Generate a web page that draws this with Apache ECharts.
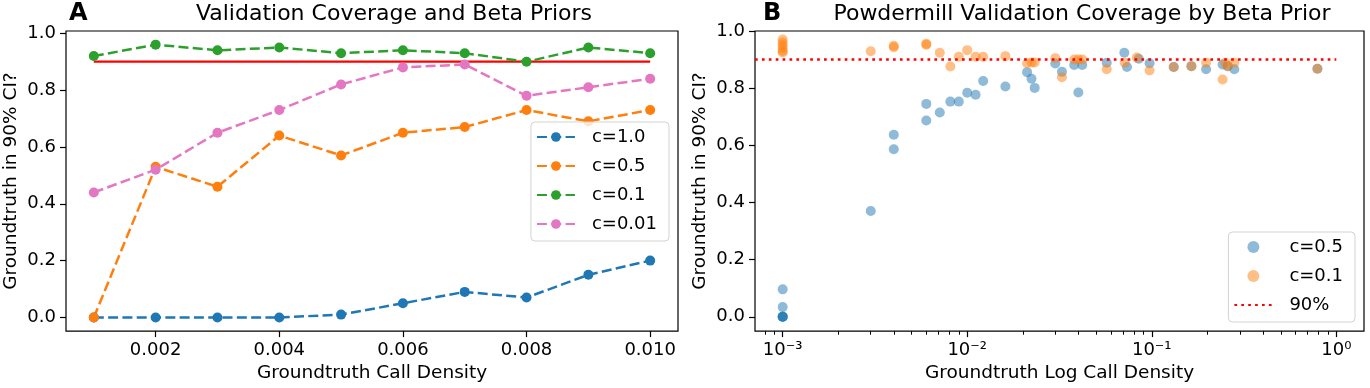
<!DOCTYPE html>
<html>
<head>
<meta charset="utf-8">
<script src="https://cdn.jsdelivr.net/npm/echarts@6/dist/echarts.min.js"></script>
<style>
html, body { margin: 0; padding: 0; background: #fff; }
#chart { width: 1370px; height: 388px; }
</style>
</head>
<body>
<div id="chart"></div>
<script>
// panel A: coverage vs call density for each beta prior
const densityA = [0.001, 0.002, 0.003, 0.004, 0.005, 0.006, 0.007, 0.008, 0.009, 0.010];
const covC10 = [0, 0, 0, 0, 0.01, 0.05, 0.09, 0.07, 0.15, 0.20];
const covC05 = [0, 0.53, 0.46, 0.64, 0.57, 0.65, 0.67, 0.73, 0.69, 0.73];
const covC01 = [0.92, 0.96, 0.94, 0.95, 0.93, 0.94, 0.93, 0.90, 0.95, 0.93];
const covC001 = [0.44, 0.52, 0.65, 0.73, 0.82, 0.88, 0.89, 0.78, 0.81, 0.84];
const targetCov = 0.9;

// panel B: powdermill validation, log density
const densC05 = [0.001, 0.001, 0.001, 0.001, 0.001, 0.001, 0.003, 0.004, 0.004, 0.006, 0.006, 0.0071,
  0.0081, 0.009, 0.010, 0.0111, 0.0122, 0.0161, 0.0211, 0.0223, 0.0232, 0.030, 0.0326, 0.038, 0.040,
  0.042, 0.057, 0.071, 0.0734, 0.085, 0.0973, 0.1315, 0.164, 0.197, 0.242, 0.258, 0.28, 0.79];
const covB05 = [0, 0, 0, 0, 0.034, 0.096, 0.37, 0.637, 0.586, 0.745, 0.687, 0.715,
  0.753, 0.753, 0.784, 0.777, 0.825, 0.806, 0.856, 0.833, 0.801, 0.886, 0.857, 0.881, 0.785,
  0.881, 0.889, 0.924, 0.874, 0.903, 0.887, 0.874, 0.877, 0.866, 0.883, 0.877, 0.866, 0.868];
const densC01 = [0.001, 0.001, 0.001, 0.001, 0.001, 0.001, 0.003, 0.004, 0.004, 0.006, 0.006, 0.0071,
  0.0081, 0.009, 0.010, 0.0111, 0.0122, 0.0161, 0.0211, 0.0223, 0.0232, 0.030, 0.0326, 0.038, 0.040,
  0.042, 0.057, 0.0714, 0.083, 0.0973, 0.1315, 0.164, 0.197, 0.242, 0.25, 0.258, 0.28, 0.79];
const covB01 = [0.97, 0.96, 0.95, 0.94, 0.93, 0.925, 0.929, 0.943, 0.948, 0.952, 0.955, 0.924,
  0.876, 0.91, 0.933, 0.91, 0.91, 0.912, 0.887, 0.89, 0.89, 0.905, 0.838, 0.9, 0.9,
  0.9, 0.866, 0.889, 0.907, 0.862, 0.874, 0.877, 0.889, 0.83, 0.889, 0.877, 0.889, 0.868];

const yTicks = [0, 0.2, 0.4, 0.6, 0.8, 1.0];
const xTicksA = [0.002, 0.004, 0.006, 0.008, 0.010];
const xTicksB = [0.001, 0.01, 0.1, 1];
const xMinB = Math.pow(10, -3.15);
const xMaxB = Math.pow(10, 0.15);
const refDensB = [xMinB, 1];

// minor ticks of the log axis (2..9 per decade)
const minorB = [];
[-4, -3, -2, -1, 0].forEach(function (e) {
  for (let m = 2; m <= 9; m++) {
    const v = m * Math.pow(10, e);
    if (v > xMinB && v < xMaxB) minorB.push(v);
  }
});

const sup = { '-3': '\u207b\u00b3', '-2': '\u207b\u00b2', '-1': '\u207b\u00b9', '0': '\u2070' };
const pairs = (xs, ys) => xs.map((x, i) => [x, ys[i]]);

const FONT = 'DejaVu Sans';
const BLUE = '#1f77b4', ORANGE = '#ff7f0e', GREEN = '#2ca02c', PINK = '#e377c2';

const tickStyle = { show: true, length: 6, lineStyle: { color: '#000', width: 1.2 } };
const labelStyle = { color: '#000', fontSize: 18, fontFamily: FONT, margin: 10 };
const nameStyle = { color: '#000', fontSize: 18.5, fontFamily: FONT };

function yAxisFor(grid, min, max, gap) {
  return {
    type: 'value', gridIndex: grid, min: min, max: max,
    name: 'Groundtruth in 90% CI?', nameLocation: 'middle', nameGap: gap, nameTextStyle: nameStyle,
    axisLine: { show: false, onZero: false },
    axisTick: Object.assign({ customValues: yTicks }, tickStyle),
    axisLabel: Object.assign({ customValues: yTicks, formatter: v => v.toFixed(1) }, labelStyle),
    splitLine: { show: false }
  };
}

function dashedLine(name, ys, color) {
  return {
    name: name, type: 'line', xAxisIndex: 0, yAxisIndex: 0,
    data: pairs(densityA, ys),
    symbol: 'circle', symbolSize: 10, showSymbol: true,
    lineStyle: { color: color, width: 2.5, type: [10, 4.3] },
    itemStyle: { color: color },
    emphasis: { disabled: true }
  };
}

function scatterB(name, xs, ys, color) {
  return {
    name: name, type: 'scatter', xAxisIndex: 1, yAxisIndex: 1,
    data: pairs(xs, ys), symbolSize: 10,
    itemStyle: { color: color, opacity: 0.5 },
    emphasis: { disabled: true }
  };
}

const legendBase = {
  orient: 'vertical', itemWidth: 38, itemHeight: 12, itemGap: 11,
  padding: [6, 12, 8, 5],
  backgroundColor: 'rgba(255,255,255,0.8)', borderColor: '#d3d3d3', borderWidth: 1, borderRadius: 4,
  textStyle: { color: '#000', fontSize: 18, fontFamily: FONT, padding: [0, 0, 0, 12] },
  selectedMode: false
};

const chart = echarts.init(document.getElementById('chart'), null, { renderer: 'canvas' });
chart.setOption({
  animation: false,
  backgroundColor: '#fff',
  title: [
    { text: 'A', left: 69, top: 2, padding: 0, textStyle: { fontSize: 24, fontWeight: 'bold', color: '#000', fontFamily: FONT } },
    { text: 'Validation Coverage and Beta Priors', left: 394, top: 3, padding: 0, textAlign: 'center',
      textStyle: { fontSize: 22, fontWeight: 'normal', color: '#000', fontFamily: FONT } },
    { text: 'B', left: 763, top: 2, padding: 0, textStyle: { fontSize: 24, fontWeight: 'bold', color: '#000', fontFamily: FONT } },
    { text: 'Powdermill Validation Coverage by Beta Prior', left: 1082, top: 3, padding: 0, textAlign: 'center',
      textStyle: { fontSize: 22, fontWeight: 'normal', color: '#000', fontFamily: FONT } }
  ],
  grid: [
    { left: 66, top: 31, width: 612, height: 301, show: true, borderColor: '#000', borderWidth: 1.2, backgroundColor: 'transparent' },
    { left: 755, top: 31, width: 609, height: 301, show: true, borderColor: '#000', borderWidth: 1.2, backgroundColor: 'transparent' }
  ],
  legend: [
    Object.assign({}, legendBase, {
      right: 701, top: 122,
      data: ['c=1.0', 'c=0.5', 'c=0.1', 'c=0.01']
    }),
    Object.assign({}, legendBase, {
      right: 15, bottom: 66,
      data: [
        { name: 'B c=0.5', icon: 'circle' },
        { name: 'B c=0.1', icon: 'circle' },
        { name: 'B 90%', itemStyle: { opacity: 0 } }
      ],
      formatter: n => n.replace('B ', '')
    })
  ],
  xAxis: [
    {
      type: 'value', gridIndex: 0, min: 0.00055, max: 0.01045,
      name: 'Groundtruth Call Density', nameLocation: 'middle', nameGap: 28, nameTextStyle: nameStyle,
      axisLine: { show: false, onZero: false },
      axisTick: Object.assign({ customValues: xTicksA }, tickStyle),
      axisLabel: Object.assign({ customValues: xTicksA, formatter: v => v.toFixed(3) }, labelStyle),
      splitLine: { show: false }
    },
    {
      type: 'log', logBase: 10, gridIndex: 1, min: xMinB, max: xMaxB,
      name: 'Groundtruth Log Call Density', nameLocation: 'middle', nameGap: 28, nameTextStyle: nameStyle,
      axisLine: { show: false, onZero: false },
      axisTick: Object.assign({ customValues: xTicksB }, tickStyle),
      axisLabel: Object.assign({ customValues: xTicksB,
        formatter: v => '10' + sup[String(Math.round(Math.log10(v)))] }, labelStyle),
      splitLine: { show: false }, minorTick: { show: false }
    },
    {
      type: 'log', logBase: 10, gridIndex: 1, min: xMinB, max: xMaxB, position: 'bottom',
      axisLine: { show: false, onZero: false },
      axisTick: { show: true, customValues: minorB, length: 3.6, lineStyle: { color: '#000', width: 1 } },
      axisLabel: { show: false },
      splitLine: { show: false }
    }
  ],
  yAxis: [
    yAxisFor(0, -0.048, 1.008, 45),
    yAxisFor(1, -0.05, 1.0, 45)
  ],
  series: [
    {
      name: 'target', type: 'line', xAxisIndex: 0, yAxisIndex: 0,
      data: pairs([densityA[0], densityA[densityA.length - 1]], [targetCov, targetCov]),
      symbol: 'none', lineStyle: { color: '#ff0000', width: 2.2, type: 'solid' },
      emphasis: { disabled: true }
    },
    dashedLine('c=1.0', covC10, BLUE),
    dashedLine('c=0.5', covC05, ORANGE),
    dashedLine('c=0.1', covC01, GREEN),
    dashedLine('c=0.01', covC001, PINK),
    scatterB('B c=0.5', densC05, covB05, BLUE),
    scatterB('B c=0.1', densC01, covB01, ORANGE),
    {
      name: 'B 90%', type: 'line', xAxisIndex: 1, yAxisIndex: 1,
      data: pairs(refDensB, [targetCov, targetCov]),
      symbol: 'none', lineStyle: { color: '#ff0000', width: 2.5, type: [2.7, 4.2] },
      itemStyle: { color: '#ff0000' },
      emphasis: { disabled: true }
    }
  ]
});
</script>
</body>
</html>
